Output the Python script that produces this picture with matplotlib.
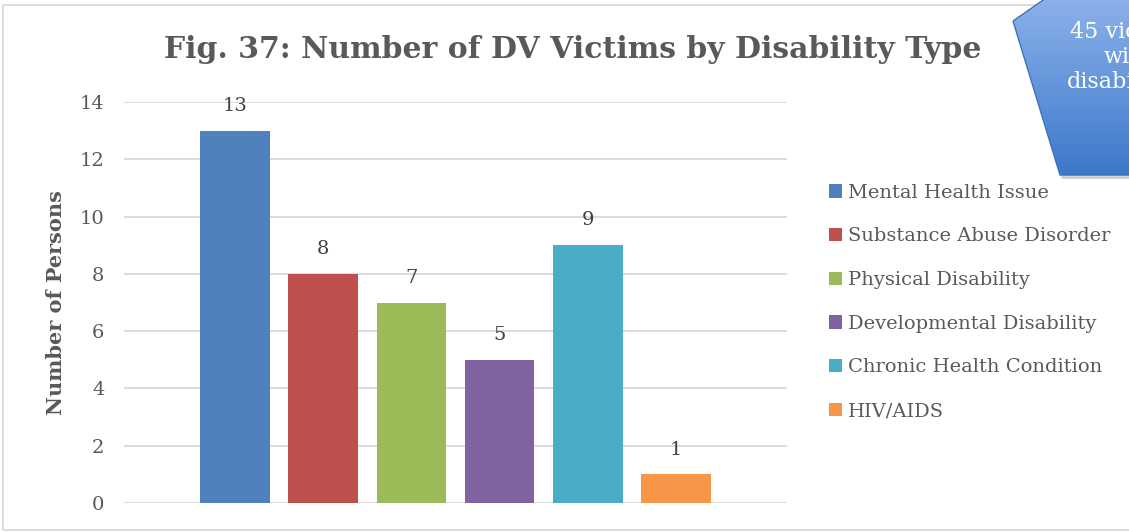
import numpy as np
import matplotlib
matplotlib.use("Agg")
import matplotlib.pyplot as plt
from matplotlib.patches import Polygon

categories = ["Mental Health Issue", "Substance Abuse Disorder", "Physical Disability",
              "Developmental Disability", "Chronic Health Condition", "HIV/AIDS"]
counts = [13, 8, 7, 5, 9, 1]
colors = ["#4F81BD", "#C0504D", "#9BBB59", "#8064A2", "#4BACC6", "#F79646"]
yticks = [0, 2, 4, 6, 8, 10, 12, 14]
title = "Fig. 37: Number of DV Victims by Disability Type"
callout_text = "45 victims\nwith\ndisabilities"

W, H = 1129, 532
txt = "#595959"
plt.rcParams["font.family"] = ["DejaVu Serif"]

fig = plt.figure(figsize=(W / 100, H / 100), dpi=100)

# main plot area
ax = fig.add_axes([124 / W, 1 - 503 / H, (787 - 124) / W, (503 - 102) / H])
x = np.arange(len(categories))
bars = ax.bar(x, counts, width=0.79, color=colors, label=categories, zorder=3)
for xi, v in zip(x, counts):
    ax.text(xi, v + 0.55, str(v), ha="center", va="bottom", fontsize=14, color="#404040")

ax.set_xlim(-1.26, 6.26)
ax.set_ylim(0, 14)
ax.set_yticks(yticks)
ax.set_xticks([])
ax.tick_params(axis="y", length=0, pad=14, labelsize=14, labelcolor=txt)
ax.yaxis.grid(True, color="#d9d9d9", linewidth=1.3, zorder=0)
for s in ax.spines.values():
    s.set_visible(False)
ax.set_ylabel("Number of Persons", fontsize=15, fontweight="bold", color=txt, labelpad=10)

fig.text(573 / W, 1 - 49 / H, title, ha="center", va="center",
         fontsize=21.5, fontweight="bold", color=txt)

fig.legend(handles=list(bars), labels=categories, loc="upper left",
           bbox_to_anchor=(821 / W, 1 - 176 / H), frameon=False,
           fontsize=14, labelcolor=txt, handlelength=0.7, handleheight=0.7,
           handletextpad=0.3, labelspacing=1.32, borderaxespad=0)

# overlay for border and callout shape
ov = fig.add_axes([0, 0, 1, 1], zorder=10)
ov.set_xlim(0, W)
ov.set_ylim(H, 0)
ov.axis("off")
ov.plot([W + 5, 3, 3, W + 5], [5, 5, 530, 530], color="#d9d9d9", linewidth=1.3, zorder=0)

pts = [(1013, 21), (1060, 175), (1150, 175), (1150, -20), (1072, -20)]
shadow = Polygon([(px + 2, py + 4) for px, py in pts], closed=True,
                 facecolor="#000000", alpha=0.18, edgecolor="none", zorder=0.5)
ov.add_patch(shadow)
shape = Polygon(pts, closed=True, facecolor="none", edgecolor="#3f72b8", linewidth=1, zorder=2)
ov.add_patch(shape)
grad = np.linspace(0, 1, 256).reshape(-1, 1)
cmap = matplotlib.colors.LinearSegmentedColormap.from_list("g", ["#94b7ee", "#3a77c9"])
im = ov.imshow(grad, cmap=cmap, aspect="auto", extent=(1005, 1150, 180, -20), zorder=1)
im.set_clip_path(shape)
ov.text(1128, 57, callout_text, ha="center", va="center", fontsize=16,
        color="white", linespacing=1.2, zorder=3)
ov.set_xlim(0, W)
ov.set_ylim(H, 0)

fig.savefig("out.png", dpi=100)
